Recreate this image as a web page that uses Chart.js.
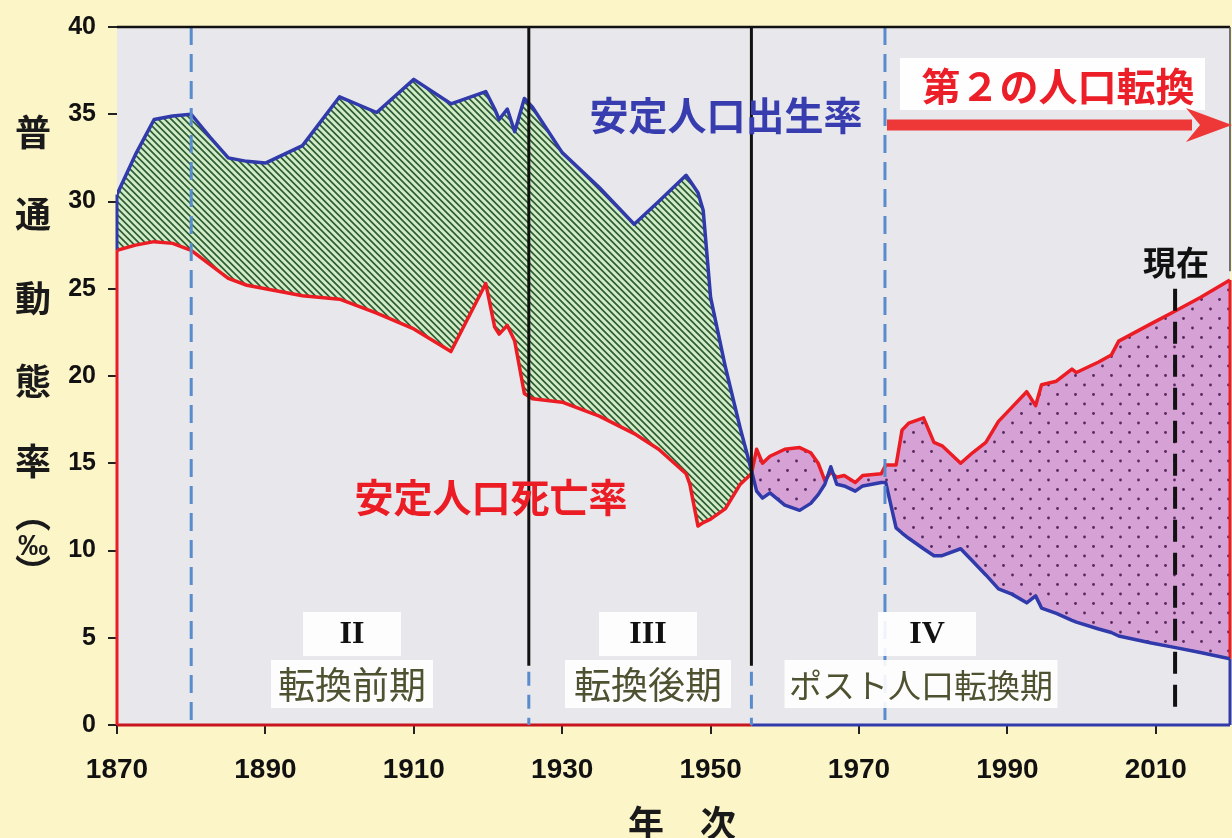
<!DOCTYPE html>
<html><head><meta charset="utf-8">
<script src="https://cdn.jsdelivr.net/npm/chart.js@4.4.1/dist/chart.umd.min.js"></script>
<style>html,body{margin:0;padding:0;background:#fcf5c8;}#wrap{width:1232px;height:838px;}</style>
</head><body><div id="wrap"><canvas id="c" width="1232" height="838"></canvas></div>
<script>
// ---- data ----
const years = [1870,1872.5,1875,1877.5,1880,1882.5,1885,1887.5,1890,1895,1900,1905,1910,1915,1919.7,1920.9,1921.5,1922.6,1923.6,1924.9,1926,1930,1935,1939.7,1943,1946.7,1947.2,1948.3,1949,1950,1952,1954,1955.5,1956.2,1957,1958,1960,1962,1963.5,1964.5,1965.4,1966.2,1967,1968,1969.5,1970.5,1973,1973.6,1975,1975.8,1976.7,1978.7,1980.1,1981.2,1983.7,1985.3,1987.1,1988.8,1990.6,1992.6,1993.8,1994.6,1996.6,1998.7,1999.3,2002.3,2004,2005,2009.4,2012.5,2016,2020];
const births = [30.4,32.7,34.7,34.9,35.0,33.7,32.5,32.3,32.2,33.2,36.0,35.1,37.0,35.6,36.3,35.3,34.7,35.3,34.0,35.9,35.4,32.8,30.8,28.7,30.0,31.5,31.2,30.5,29.5,24.5,20.5,17.0,14.6,13.4,13.0,13.3,12.6,12.3,12.7,13.2,13.8,14.8,13.8,13.7,13.4,13.7,13.9,13.9,11.3,11.0,10.7,10.1,9.7,9.7,10.1,9.4,8.6,7.8,7.5,7.0,7.4,6.7,6.4,6.0,5.9,5.5,5.3,5.1,4.7,4.45,4.15,3.8];
const deaths = [27.2,27.5,27.7,27.6,27.2,26.4,25.6,25.2,25.0,24.6,24.4,23.6,22.7,21.4,25.3,22.8,22.4,22.9,22.0,19.0,18.7,18.5,17.7,16.7,15.8,14.4,13.8,11.4,11.6,11.8,12.4,13.8,14.4,15.8,15.0,15.4,15.8,15.9,15.6,15.0,14.0,14.5,14.2,14.3,13.9,14.3,14.4,14.9,14.9,16.9,17.3,17.6,16.2,16.0,15.0,15.6,16.2,17.4,18.2,19.1,18.3,19.5,19.7,20.4,20.2,20.8,21.2,22.0,23.0,23.7,24.5,25.5];
const xTickValues = [1870,1890,1910,1930,1950,1970,1990,2010];
const xRange = [1870, 2020];
const yRange = [0, 40];
const yStep = 5;
const blueDashYears = [1880, 1973.5];
const phaseLineYears = [1925.5, 1955.5];
const nowYear = 2012.6;
const crossYear = 1955.5;
const yAxisTitle = ['普','通','動','態','率','︵','‰','︶'];
const xAxisTitle = '年　次';
const phaseRoman = ['II','III','IV'];
const phaseNames = ['転換前期','転換後期','ポスト人口転換期'];

// ---- patterns ----
function hatchPattern(){
  const s=6.5, n=13, c=document.createElement('canvas'); c.width=c.height=n;
  const g=c.getContext('2d');
  g.fillStyle='rgb(210,236,198)'; g.fillRect(0,0,n,n);
  g.strokeStyle='rgb(45,92,55)'; g.lineWidth=1.7; g.beginPath();
  for(let k=-2;k<=2;k++){ g.moveTo(-1,-1+s*k); g.lineTo(n+1,n+1+s*k); }
  g.stroke();
  return g.createPattern(c,'repeat');
}
function dotPattern(){
  const w=18,h=19,c=document.createElement('canvas'); c.width=w; c.height=h;
  const g=c.getContext('2d');
  g.fillStyle='rgb(214,162,214)'; g.fillRect(0,0,w,h);
  g.fillStyle='rgb(85,40,95)';
  g.beginPath(); g.arc(4.5,5,1.4,0,Math.PI*2); g.fill();
  g.beginPath(); g.arc(13.5,14.5,1.4,0,Math.PI*2); g.fill();
  return g.createPattern(c,'repeat');
}
const BLUE='rgb(48,58,170)', RED='rgb(236,28,36)';
const pts = arr => years.map((x,i)=>({x, y: arr[i]}));
const last = years.length-1;

const frameLine = (data,color)=>({data, borderColor:color, borderWidth:3, pointRadius:0, showLine:true, fill:false, clip:false, tension:0});

const deco = {
  id:'deco',
  beforeDraw(chart){
    const {ctx, chartArea:a} = chart;
    ctx.save();
    ctx.fillStyle='#fcf5c8'; ctx.fillRect(0,0,chart.width,chart.height);
    ctx.fillStyle='rgb(232,232,236)'; ctx.fillRect(a.left,a.top,a.right-a.left,a.bottom-a.top);
    ctx.restore();
  },
  afterDatasetsDraw(chart){
    const {ctx, chartArea:a, scales:{x,y}} = chart;
    ctx.save();
    const vline=(xp,y0,y1,color,w,dash)=>{ctx.beginPath();ctx.setLineDash(dash||[]);ctx.strokeStyle=color;ctx.lineWidth=w;ctx.moveTo(xp,y0);ctx.lineTo(xp,y1);ctx.stroke();};
    const dashBlue='rgb(88,140,205)';
    blueDashYears.forEach(v=>vline(x.getPixelForValue(v),a.top,a.bottom,dashBlue,3,[18,9]));
    const splitY=y.getPixelForValue(3.4);
    phaseLineYears.forEach(v=>{const xp=x.getPixelForValue(v); vline(xp,a.top,splitY,'#111',3); vline(xp,splitY+6,a.bottom,dashBlue,3,[14,9]);});
    vline(x.getPixelForValue(nowYear),y.getPixelForValue(25.0),y.getPixelForValue(0.7),'#111',4,[22,11]);
    ctx.setLineDash([]);
    // top & right border
    ctx.strokeStyle='#111'; ctx.lineWidth=2.5; ctx.beginPath(); ctx.moveTo(a.left,a.top); ctx.lineTo(a.right,a.top); ctx.stroke();
    ctx.strokeStyle='rgb(70,70,80)'; ctx.lineWidth=1.5; ctx.beginPath(); ctx.moveTo(a.right,a.top); ctx.lineTo(a.right,y.getPixelForValue(26)); ctx.stroke();

    const jp='"Noto Sans CJK JP", sans-serif';
    ctx.textAlign='center'; ctx.textBaseline='middle';
    // series labels
    ctx.font='bold 39px '+jp; ctx.fillStyle='rgb(55,60,175)'; ctx.fillText('安定人口出生率',726,115);
    ctx.fillStyle=RED; ctx.fillText('安定人口死亡率',491,497);
    // second transition
    ctx.fillStyle='rgba(255,255,255,0.92)'; ctx.fillRect(900,58,305,52);
    ctx.fillStyle='rgb(236,30,40)'; ctx.font='bold 39px '+jp; ctx.fillText('第２の人口転換',1058,86);
    // arrow
    ctx.fillStyle='rgb(238,56,56)';
    ctx.fillRect(887,119.5,305,11);
    ctx.beginPath(); ctx.moveTo(1232,125); ctx.lineTo(1186,108); ctx.lineTo(1200,125); ctx.lineTo(1186,142); ctx.closePath(); ctx.fill();
    // now
    ctx.fillStyle='#111'; ctx.font='bold 33px '+jp; ctx.fillText('現在',1176,262);
    // phases
    const romanX=[352,648,927], nameX=[352,648,921], nameW=[162,166,273], nameSize=[37,37,33];
    for(let i=0;i<3;i++){
      ctx.fillStyle='rgba(255,255,255,0.9)';
      ctx.fillRect(romanX[i]-49,612,98,44);
      ctx.fillRect(nameX[i]-nameW[i]/2,660,nameW[i],48);
      ctx.fillStyle='#111'; ctx.font='bold 32px "Liberation Serif", serif';
      ctx.fillText(phaseRoman[i],romanX[i],635);
      ctx.fillStyle='rgb(78,82,48)'; ctx.font=nameSize[i]+'px '+jp;
      ctx.fillText(phaseNames[i],nameX[i],685);
    }
    // axis titles
    ctx.fillStyle='#1a1a1a';
    const ty=[132,214,298,381,461,514,547,572];
    yAxisTitle.forEach((ch,i)=>{
      if(ch==='‰'){ctx.font='bold 30px "Liberation Sans", sans-serif';}
      else ctx.font='bold 36px '+jp;
      ctx.fillText(ch,33,ty[i]);
    });
    ctx.font='bold 36px '+jp; ctx.fillText(xAxisTitle,682,823);
    ctx.restore();
  }
};

new Chart(document.getElementById('c'),{
  type:'scatter',
  data:{datasets:[
    {label:'出生率', data:pts(births), showLine:true, borderColor:BLUE, borderWidth:3.5, pointRadius:0, tension:0, borderJoinStyle:'round',
      fill:{target:1, above:hatchPattern(), below:dotPattern()}},
    {label:'死亡率', data:pts(deaths), showLine:true, borderColor:RED, borderWidth:3.5, pointRadius:0, tension:0, borderJoinStyle:'round', fill:false},
    frameLine([{x:years[0],y:0},{x:years[0],y:deaths[0]}],RED),
    frameLine([{x:years[0],y:deaths[0]},{x:years[0],y:births[0]}],BLUE),
    frameLine([{x:years[0],y:0},{x:crossYear,y:0}],'rgb(200,20,30)'),
    frameLine([{x:crossYear,y:0},{x:years[last],y:0}],BLUE),
    frameLine([{x:years[last],y:births[last]},{x:years[last],y:deaths[last]}],RED),
    frameLine([{x:years[last],y:0},{x:years[last],y:births[last]}],BLUE)
  ]},
  options:{
    responsive:false, animation:false, devicePixelRatio:1,
    layout:{padding:{top:20,right:2,left:0,bottom:0}},
    plugins:{legend:{display:false}, tooltip:{enabled:false}, filler:{drawTime:'beforeDatasetsDraw'}},
    scales:{
      x:{type:'linear', min:xRange[0], max:xRange[1],
        afterBuildTicks:s=>{s.ticks=xTickValues.map(v=>({value:v}));},
        afterFit:s=>{s.height=113;},
        border:{display:false},
        grid:{drawOnChartArea:false, drawTicks:true, tickLength:9, color:'#222', lineWidth:2},
        ticks:{autoSkip:false, maxRotation:0, padding:19, color:'#111', font:{family:'"Liberation Sans", Arial, sans-serif', weight:'bold', size:28}, callback:v=>String(v)}},
      y:{min:yRange[0], max:yRange[1],
        afterFit:s=>{s.width=117;},
        border:{display:false},
        grid:{drawOnChartArea:false, drawTicks:true, tickLength:9, color:'#222', lineWidth:2},
        ticks:{stepSize:yStep, padding:12, color:'#111', font:{family:'"Liberation Sans", Arial, sans-serif', weight:'bold', size:25}}}
    }
  },
  plugins:[deco]
});
</script></body></html>
